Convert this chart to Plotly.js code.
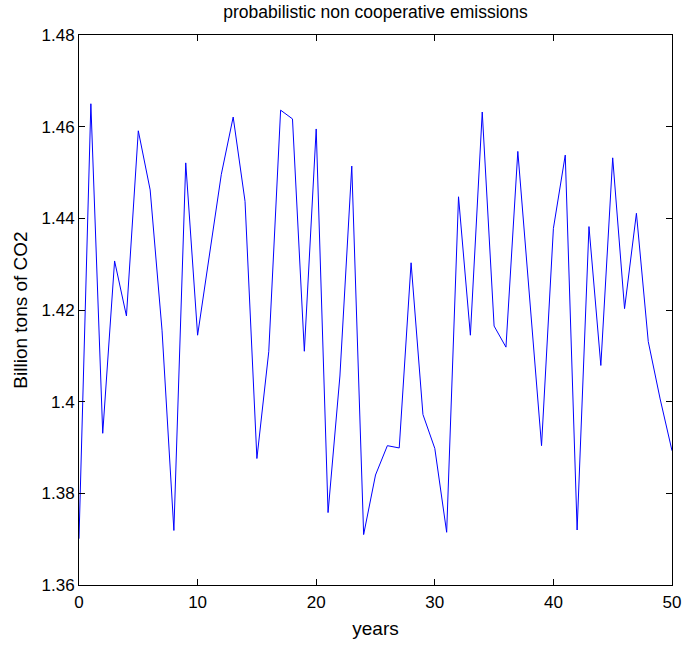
<!DOCTYPE html>
<html>
<head>
<meta charset="utf-8">
<script src="https://cdn.plot.ly/plotly-3.0.1.min.js"></script>
<style>
  html, body { margin: 0; padding: 0; background: #fff; }
  #chart { width: 682px; height: 645px; }
</style>
</head>
<body>
<div id="chart"></div>
<script>
const years = [0,1,2,3,4,5,6,7,8,9,10,11,12,13,14,15,16,17,18,19,20,21,22,23,24,25,26,27,28,29,30,31,32,33,34,35,36,37,38,39,40,41,42,43,44,45,46,47,48,49,50];
const emissions = [1.3701,1.4650,1.3931,1.4307,1.4187,1.4591,1.4462,1.4156,1.3719,1.4521,
                   1.4145,1.4320,1.4496,1.4621,1.4437,1.3876,1.4109,1.4636,1.4617,1.4110,
                   1.4595,1.3758,1.4056,1.4514,1.3710,1.3840,1.3904,1.3899,1.4303,1.3972,
                   1.3898,1.3715,1.4447,1.4145,1.4632,1.4165,1.4119,1.4546,1.4222,1.3904,
                   1.4378,1.4538,1.3720,1.4382,1.4079,1.4532,1.4203,1.4411,1.4131,1.4006,
                   1.3893];
const xTickVals = [0,10,20,30,40,50];
const xTickText = ['0','10','20','30','40','50'];
const yTickVals = [1.36,1.38,1.40,1.42,1.44,1.46,1.48];
const yTickText = ['1.36','1.38','1.4','1.42','1.44','1.46','1.48'];

const font = 'Liberation Sans, Arial, Helvetica, sans-serif';

Plotly.newPlot('chart', [{
  x: years,
  y: emissions,
  type: 'scatter',
  mode: 'lines',
  line: { color: '#0000ff', width: 1 },
  hoverinfo: 'skip'
}], {
  width: 682,
  height: 645,
  paper_bgcolor: '#ffffff',
  plot_bgcolor: '#ffffff',
  showlegend: false,
  margin: { l: 79, r: 10, t: 35, b: 60, pad: 0 },
  title: {
    text: 'probabilistic non cooperative emissions',
    font: { family: font, size: 17.5, color: '#000' },
    xref: 'paper', x: 0.5, xanchor: 'center',
    yref: 'container', y: 0.981, yanchor: 'middle'
  },
  xaxis: {
    range: [0, 50],
    tickvals: xTickVals,
    ticktext: xTickText,
    ticks: 'inside',
    ticklen: 6,
    tickcolor: '#000',
    showline: true,
    linecolor: '#000',
    linewidth: 1,
    mirror: 'ticks',
    showgrid: false,
    zeroline: false,
    ticklabelstandoff: 2,
    tickfont: { family: font, size: 17, color: '#000' },
    title: { text: 'years', font: { family: font, size: 19, color: '#000' }, standoff: 10 }
  },
  yaxis: {
    range: [1.36, 1.48],
    tickvals: yTickVals,
    ticktext: yTickText,
    ticks: 'inside',
    ticklen: 6,
    tickcolor: '#000',
    showline: true,
    linecolor: '#000',
    linewidth: 1,
    mirror: 'ticks',
    showgrid: false,
    zeroline: false,
    tickfont: { family: font, size: 17, color: '#000' },
    title: { text: 'Billion tons of CO2', font: { family: font, size: 19, color: '#000' }, standoff: 8 }
  }
}, { displayModeBar: false, staticPlot: true });
</script>
</body>
</html>
